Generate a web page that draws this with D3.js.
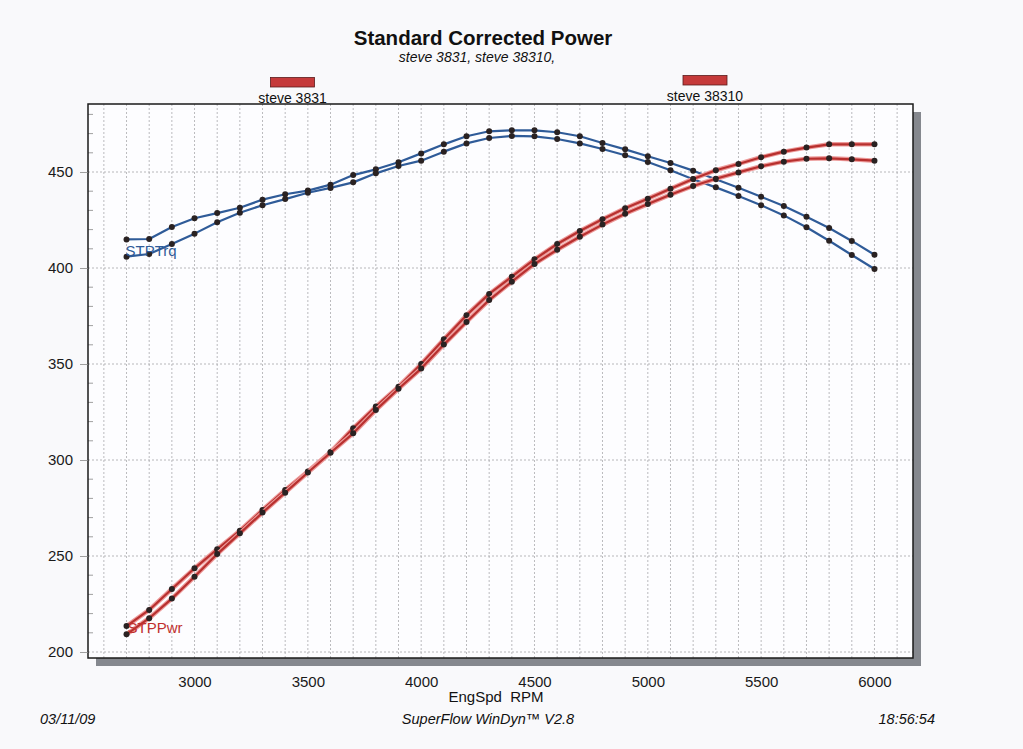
<!DOCTYPE html>
<html>
<head>
<meta charset="utf-8">
<script src="https://cdn.jsdelivr.net/npm/d3@7"></script>
<style>
  html, body { margin: 0; padding: 0; background: #f9f9fb; }
  svg { display: block; }
  text { font-family: "Liberation Sans", Arial, sans-serif; }
</style>
</head>
<body>
<svg id="chart" width="1023" height="749"></svg>
<script>
// ---- data ----
const rpm = [2700,2800,2900,3000,3100,3200,3300,3400,3500,3600,3700,3800,3900,4000,4100,4200,4300,4400,4500,4600,4700,4800,4900,5000,5100,5200,5300,5400,5500,5600,5700,5800,5900,6000];

const trqA = [414.9,415.1,421.4,425.9,428.6,431.4,435.6,438.4,440.3,443.4,448.4,451.4,455.1,459.7,464.4,468.6,471.2,471.7,471.7,470.7,468.6,465.1,461.8,458.2,454.7,450.7,446.2,441.8,437.1,432.3,426.7,420.8,414.1,406.9];
const trqB = [405.9,407.3,412.5,417.9,423.8,428.8,432.7,435.9,439.2,441.7,444.6,449.3,453.1,455.9,460.6,464.9,467.7,468.8,468.6,467.2,464.9,462.0,458.7,455.2,450.9,446.2,442.0,437.5,432.7,427.4,421.2,414.2,406.8,399.5];
const pwrA = [213.5,221.9,232.8,243.6,253.5,263.2,274.0,284.4,294.0,304.2,316.5,327.8,338.2,350.0,362.9,375.4,386.5,395.5,404.5,412.5,419.3,425.4,431.1,436.1,441.3,446.4,450.9,454.2,457.7,460.6,462.7,464.4,464.4,464.4];
const pwrB = [209.2,217.6,227.8,239.2,251.0,261.8,272.6,283.0,293.5,303.8,313.9,326.0,337.1,347.6,360.1,371.9,383.3,392.9,402.1,409.5,416.3,422.6,428.3,433.3,438.2,442.7,446.5,449.8,453.0,455.4,456.9,457.1,456.6,455.9];

const xTickLabels = [3000,3500,4000,4500,5000,5500,6000];
const yTickLabels = [200,250,300,350,400,450];
const xGrid = d3.range(2600, 6101, 100);
const yMinor = d3.range(200, 481, 10);

const legendNames = ["steve 3831", "steve 38310"];
const title = "Standard Corrected Power";
const subtitle = "steve 3831, steve 38310,";

// ---- layout ----
const L = 88, R = 913, T = 104, B = 658;
const svg = d3.select("#chart");

const x = d3.scaleLinear().domain([2530, 6170]).range([L, R]);
const y = d3.scaleLinear().domain([200, 450]).range([652, 172]);

// shadow
svg.append("rect").attr("x", R).attr("y", T + 8).attr("width", 8).attr("height", B - T).attr("fill", "#85888e");
svg.append("rect").attr("x", L + 8).attr("y", B).attr("width", R - L).attr("height", 8).attr("fill", "#85888e");

// plot background
svg.append("rect").attr("x", L).attr("y", T).attr("width", R - L).attr("height", B - T).attr("fill", "#fdfdff");

// grid
const g = svg.append("g");
g.selectAll("line.vg").data(xGrid).join("line")
  .attr("x1", d => x(d)).attr("x2", d => x(d)).attr("y1", T).attr("y2", B)
  .attr("stroke", "#a9a9ad").attr("stroke-width", 0.8).attr("stroke-dasharray", "2,2");
g.selectAll("line.hg").data(yTickLabels).join("line")
  .attr("x1", L).attr("x2", R).attr("y1", d => y(d)).attr("y2", d => y(d))
  .attr("stroke", "#a5a5a8").attr("stroke-width", 0.8).attr("stroke-dasharray", "2,2");

// minor ticks inside left axis
g.selectAll("line.mt").data(yMinor.filter(v => v % 50 !== 0)).join("line")
  .attr("x1", L).attr("x2", L + 5).attr("y1", d => y(d)).attr("y2", d => y(d))
  .attr("stroke", "#888").attr("stroke-width", 0.8);

// frame
svg.append("rect").attr("x", L).attr("y", T).attr("width", R - L).attr("height", B - T)
  .attr("fill", "none").attr("stroke", "#1a1a1a").attr("stroke-width", 1.5);

// y axis labels and outer ticks
const yAxis = d3.axisLeft(y).tickValues(yTickLabels).tickSize(8).tickPadding(7).tickFormat(d3.format("d"));
const ya = svg.append("g").attr("transform", `translate(${L},0)`).call(yAxis);
ya.select(".domain").remove();
ya.selectAll(".tick line").attr("stroke", "#888").attr("stroke-width", 0.8);
ya.selectAll(".tick text").attr("font-size", 15).attr("fill", "#1a1a1a")
  .attr("font-family", '"Liberation Sans", Arial, sans-serif');

// x axis labels
const xAxis = d3.axisBottom(x).tickValues(xTickLabels).tickSize(0).tickPadding(18).tickFormat(d3.format("d"));
const xa = svg.append("g").attr("transform", `translate(0,${B})`).call(xAxis);
xa.select(".domain").remove();
xa.selectAll(".tick text").attr("font-size", 15).attr("fill", "#1a1a1a")
  .attr("font-family", '"Liberation Sans", Arial, sans-serif');

// series
const line = d3.line().x((d, i) => x(rpm[i])).y(d => y(d));
function drawSeries(vals, color, halo) {
  if (halo) {
    svg.append("path").datum(vals).attr("d", line).attr("fill", "none")
      .attr("stroke", halo).attr("stroke-width", 4.5).attr("stroke-linejoin", "round");
  }
  svg.append("path").datum(vals).attr("d", line).attr("fill", "none")
    .attr("stroke", color).attr("stroke-width", 2.2).attr("stroke-linejoin", "round");
  svg.append("g").selectAll("circle").data(vals).join("circle")
    .attr("cx", (d, i) => x(rpm[i])).attr("cy", d => y(d)).attr("r", 3)
    .attr("fill", "#2a2222");
}
drawSeries(trqA, "#2f5b98", null);
drawSeries(trqB, "#2f5b98", null);
drawSeries(pwrA, "#b8302f", "#ec9a9a");
drawSeries(pwrB, "#b8302f", "#ec9a9a");

// in-plot labels
svg.append("text").attr("x", x(rpm[0]) - 1).attr("y", 256).attr("font-size", 15)
  .attr("fill", "#2f5b98").text("STPTrq");
svg.append("text").attr("x", x(rpm[0]) + 1).attr("y", 633).attr("font-size", 15)
  .attr("fill", "#c0302f").text("STPPwr");

// title & subtitle
svg.append("text").attr("x", 483).attr("y", 45).attr("text-anchor", "middle")
  .attr("font-size", 20.5).attr("font-weight", "bold").attr("fill", "#111").text(title);
svg.append("text").attr("x", 477).attr("y", 62).attr("text-anchor", "middle")
  .attr("font-size", 14).attr("font-style", "italic").attr("fill", "#111").text(subtitle);

// legend
const legendPos = [{cx: 292.5, ry: 77.5}, {cx: 705, ry: 75.5}];
legendNames.forEach((n, i) => {
  const p = legendPos[i];
  svg.append("rect").attr("x", p.cx - 22).attr("y", p.ry).attr("width", 44).attr("height", 9.5)
    .attr("fill", "#c53a3a").attr("stroke", "#5a1c1c").attr("stroke-width", 0.8);
  svg.append("text").attr("x", p.cx).attr("y", p.ry + 25).attr("text-anchor", "middle")
    .attr("font-size", 14).attr("fill", "#111").text(n);
});

// footer
svg.append("text").attr("x", 496).attr("y", 702).attr("text-anchor", "middle")
  .attr("font-size", 15).attr("fill", "#111").text("EngSpd\u00a0\u00a0RPM");
svg.append("text").attr("x", 40).attr("y", 724).attr("font-size", 14.5)
  .attr("font-style", "italic").attr("fill", "#111").text("03/11/09");
svg.append("text").attr("x", 488).attr("y", 724).attr("text-anchor", "middle").attr("font-size", 14.5)
  .attr("font-style", "italic").attr("fill", "#111").text("SuperFlow WinDyn\u2122 V2.8");
svg.append("text").attr("x", 935).attr("y", 724).attr("text-anchor", "end").attr("font-size", 14.5)
  .attr("font-style", "italic").attr("fill", "#111").text("18:56:54");
</script>
</body>
</html>
